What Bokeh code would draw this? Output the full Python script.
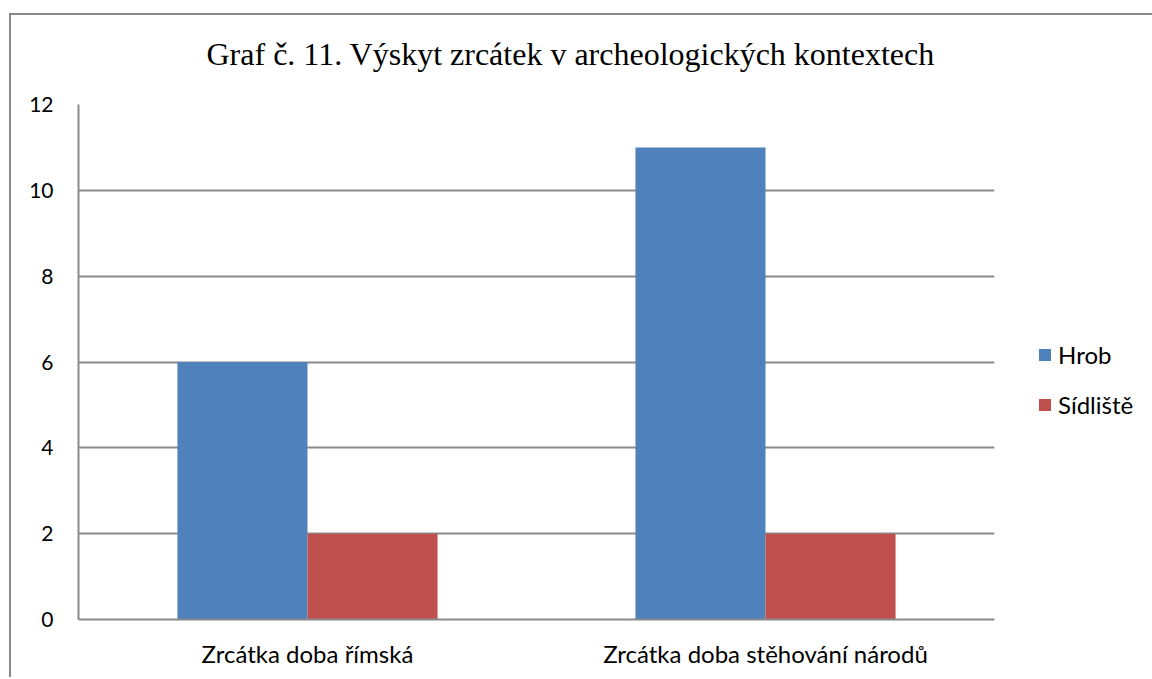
from bokeh.plotting import figure
from bokeh.models import ColumnDataSource, Legend, LegendItem, FixedTicker, Title
from bokeh.transform import dodge
from bokeh.embed import file_html
from bokeh.resources import INLINE

title_text = "Graf č. 11. Výskyt zrcátek v archeologických kontextech"
categories = ["Zrcátka doba římská", "Zrcátka doba stěhování národů"]
series_names = ["Hrob", "Sídliště"]
hrob = [6, 11]
sidliste = [2, 2]
y_ticks = [0, 2, 4, 6, 8, 10, 12]
colors = ["#4F81BD", "#C0504D"]

src = ColumnDataSource(dict(cat=categories, hrob=hrob, sidliste=sidliste))

p = figure(x_range=categories, y_range=(0, 12),
           frame_width=916, frame_height=515,
           output_backend="svg", toolbar_location=None,
           min_border_left=69, min_border_right=157,
           min_border_top=104, min_border_bottom=58)
# outer chart-area border drawn as host background lines
p.styles = {"margin-top": "0px", "margin-left": "9px",
            "background-image": "linear-gradient(#888888, #888888), linear-gradient(#888888, #888888)",
            "background-size": "100% 2px, 2px 100%",
            "background-position": "0 13px, 0 13px",
            "background-repeat": "no-repeat"}
p.outline_line_color = None
p.background_fill_color = "white"
p.border_fill_alpha = 0

p.title = Title(text=title_text, align="left", offset=128,
                text_font="Liberation Serif", text_font_size="32px",
                text_font_style="normal", text_color="black", standoff=66)

bw = 0.284
r1 = p.vbar(x=dodge("cat", -bw / 2, range=p.x_range), top="hrob", width=bw,
            source=src, fill_color=colors[0], line_color=None)
r2 = p.vbar(x=dodge("cat", bw / 2, range=p.x_range), top="sidliste", width=bw,
            source=src, fill_color=colors[1], line_color=None)

gray = "#8a8a8a"
p.yaxis.ticker = FixedTicker(ticks=y_ticks)
p.ygrid.ticker = FixedTicker(ticks=y_ticks[1:])
p.xgrid.grid_line_color = None
p.ygrid.grid_line_color = gray
p.ygrid.grid_line_width = 2

for ax in (p.xaxis[0], p.yaxis[0]):
    ax.axis_line_color = gray
    ax.axis_line_width = 2
    ax.major_tick_line_color = None
    ax.minor_tick_line_color = None
    ax.major_tick_in = 0
    ax.major_tick_out = 0
    ax.minor_tick_in = 0
    ax.minor_tick_out = 0
    ax.major_label_text_font = "Lato"
    ax.major_label_text_color = "black"

p.yaxis.major_label_text_font_size = "21px"
p.yaxis.major_label_standoff = 25
p.xaxis.major_label_text_font_size = "24px"
p.xaxis.major_label_standoff = 19

legend = Legend(items=[LegendItem(label=series_names[0], renderers=[r1]),
                       LegendItem(label=series_names[1], renderers=[r2])],
                location=(43, 200), orientation="vertical",
                glyph_width=15, glyph_height=15, label_height=15,
                label_standoff=6, spacing=21, padding=0, margin=0,
                border_line_color=None, background_fill_alpha=0,
                label_text_font="Lato", label_text_font_size="24px",
                label_text_color="black")
p.add_layout(legend, "right")

open("out.html", "w").write(file_html(p, INLINE))
